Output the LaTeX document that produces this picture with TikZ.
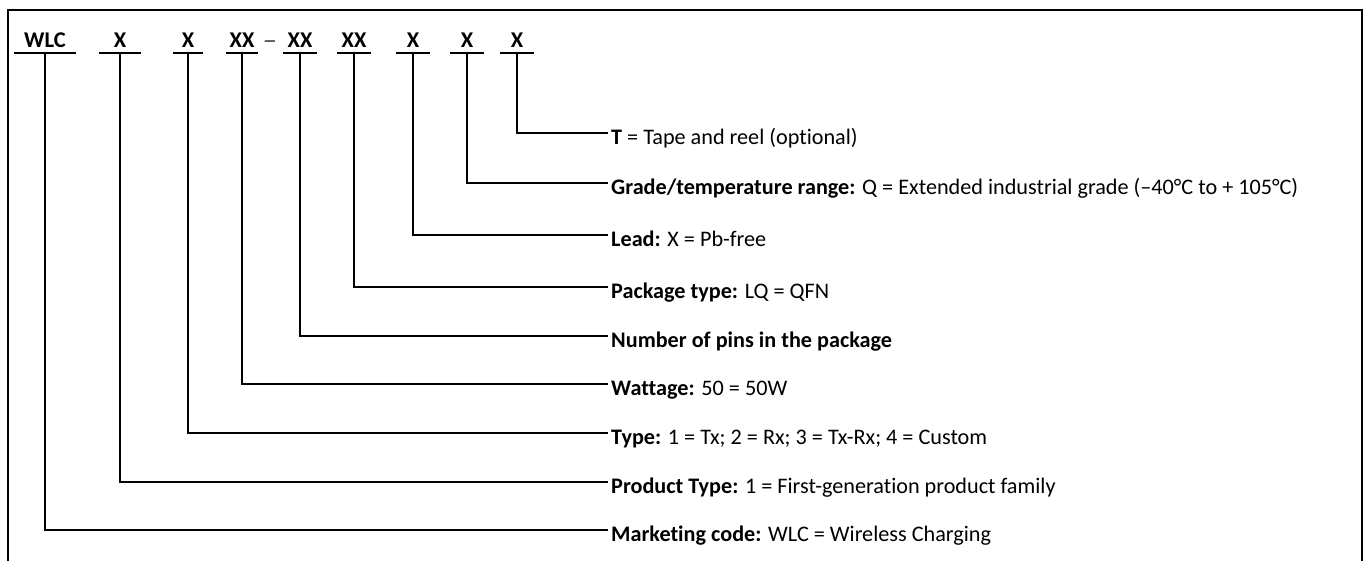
\documentclass[tikz,border=0pt]{standalone}
\usepackage{fontspec}
\setmainfont[Ligatures={TeX,NoCommon}]{Carlito}
\tikzset{
	code/.style={font=\bfseries\fontsize{22.5}{24}\selectfont, anchor=base, inner sep=0pt,
		text height=14pt, text depth=5pt, minimum width=#1},
	uline/.style={line width=2pt},
	desc/.style={font=\fontsize{22.2}{25}\selectfont, anchor=west, inner ysep=0pt, inner xsep=3pt,
		text height=23pt, text depth=0pt},
	link/.style={line width=1.2pt},
	frame/.style={line width=2pt}
}
\begin{document}
\begin{tikzpicture}[x=1pt, y=-1pt]
		\useasboundingbox (0,0) rectangle (1369,561);
		% Outer frame (open at the bottom)
		\draw[frame] (8,561) -- (8,10) -- (1362,10) -- (1362,561);

		% Part number fields
		\foreach \n/\x/\w/\t in {wlc/45/62/WLC, gen/120/41/X, typ/188/30/X, watt/242/32/XX,
				pins/300/33/XX, pkg/354/33/XX, lead/413/33/X, grade/467/33/X, reel/517/33/X} {
			\node[code=\w] (\n) at (\x,48) {\t};
			\draw[uline] (\n.south west) -- (\n.south east);
		}
		\node[font=\bfseries\fontsize{14}{16}\selectfont, inner sep=0pt] (dash) at (270,43) {---};

		% Field descriptions
		\foreach \n/\y/\t in {
				dreel/133/{\textbf{T} = Tape and reel (optional)},
				dgrade/183/{\textbf{Grade/temperature range:} Q = Extended industrial grade (--40°C to + 105°C)},
				dlead/235/{\textbf{Lead:} X = Pb-free},
				dpkg/287/{\textbf{Package type:} LQ = QFN},
				dpins/336/{\textbf{Number of pins in the package}},
				dwatt/384/{\textbf{Wattage:} 50 = 50W},
				dtyp/433/{\textbf{Type:} 1 = Tx; 2 = Rx; 3 = Tx-Rx; 4 = Custom},
				dgen/482/{\textbf{Product Type:} 1 = First-generation product family},
				dwlc/530/{\textbf{Marketing code:} WLC = Wireless Charging}} {
			\node[desc] (\n) at (608,\y) {\t};
		}

		% Connect each field to its description
		\foreach \c in {wlc, gen, typ, watt, pins, pkg, lead, grade, reel} {
			\draw[link] (\c.south) |- (d\c.west);
		}
	\end{tikzpicture}
\end{document}
